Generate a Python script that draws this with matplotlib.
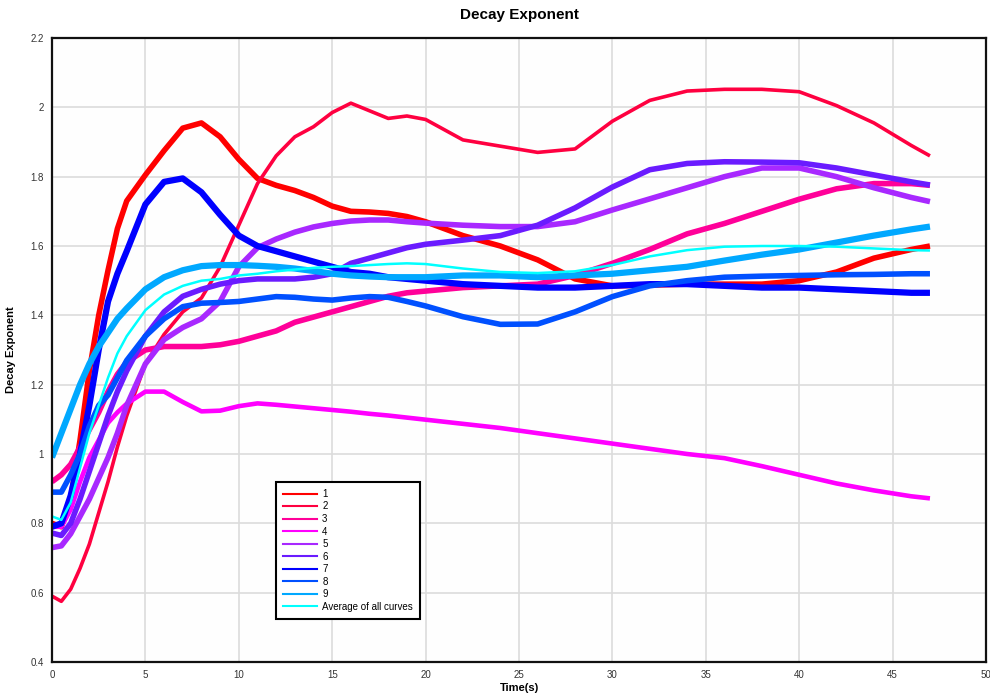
import matplotlib
matplotlib.use("Agg")
import matplotlib.pyplot as plt

plt.rcParams['font.family'] = ['Liberation Sans', 'DejaVu Sans']

# ---- data ----
time_s = [0, 0.5, 1, 1.5, 2, 2.5, 3, 3.5, 4, 5, 6, 7, 8, 9, 10, 11, 12, 13, 14, 15,
          16, 17, 18, 19, 20, 22, 24, 26, 28, 30, 32, 34, 36, 38, 40, 42, 44, 46, 47]

curve_1 = [0.80, 0.79, 0.87, 1.04, 1.24, 1.40, 1.53, 1.65, 1.73, 1.805, 1.875, 1.94, 1.955, 1.915,
           1.85, 1.795, 1.775, 1.76, 1.74, 1.715, 1.70, 1.698, 1.694, 1.685, 1.67, 1.63, 1.60,
           1.56, 1.505, 1.485, 1.487, 1.49, 1.49, 1.49, 1.50, 1.525, 1.565, 1.59, 1.60]
curve_2 = [0.59, 0.575, 0.61, 0.67, 0.74, 0.83, 0.92, 1.02, 1.11, 1.26, 1.345, 1.41, 1.45, 1.54,
           1.66, 1.78, 1.86, 1.915, 1.944, 1.985, 2.012, 1.99, 1.968, 1.975, 1.965, 1.906, 1.888,
           1.87, 1.88, 1.96, 2.02, 2.047, 2.052, 2.052, 2.045, 2.005, 1.955, 1.89, 1.86]
curve_3 = [0.92, 0.94, 0.97, 1.02, 1.07, 1.12, 1.18, 1.23, 1.265, 1.30, 1.31, 1.31, 1.31, 1.315,
           1.325, 1.34, 1.355, 1.38, 1.395, 1.41, 1.425, 1.44, 1.455, 1.465, 1.47, 1.48, 1.485,
           1.49, 1.515, 1.55, 1.59, 1.635, 1.665, 1.70, 1.735, 1.765, 1.78, 1.78, 1.775]
curve_4 = [0.79, 0.79, 0.84, 0.92, 0.99, 1.04, 1.09, 1.12, 1.145, 1.18, 1.18, 1.15, 1.123, 1.125,
           1.138, 1.146, 1.142, 1.137, 1.132, 1.127, 1.122, 1.116, 1.111, 1.105, 1.099, 1.087,
           1.075, 1.06, 1.045, 1.03, 1.015, 1.0, 0.988, 0.965, 0.94, 0.915, 0.895, 0.878, 0.872]
curve_5 = [0.73, 0.735, 0.77, 0.82, 0.87, 0.93, 0.99, 1.06, 1.14, 1.26, 1.33, 1.365, 1.39, 1.44,
           1.54, 1.595, 1.62, 1.64, 1.655, 1.665, 1.672, 1.675, 1.675, 1.67, 1.666, 1.66, 1.656,
           1.656, 1.67, 1.704, 1.736, 1.768, 1.80, 1.825, 1.825, 1.80, 1.768, 1.74, 1.728]
curve_6 = [0.772, 0.765, 0.80, 0.87, 0.95, 1.03, 1.11, 1.18, 1.24, 1.34, 1.41, 1.455, 1.475, 1.49,
           1.50, 1.505, 1.505, 1.505, 1.51, 1.52, 1.55, 1.565, 1.58, 1.595, 1.605, 1.617, 1.63,
           1.66, 1.71, 1.77, 1.82, 1.838, 1.843, 1.842, 1.84, 1.825, 1.805, 1.785, 1.776]
curve_7 = [0.79, 0.80, 0.88, 1.00, 1.14, 1.30, 1.44, 1.52, 1.585, 1.72, 1.785, 1.795, 1.755, 1.69,
           1.63, 1.60, 1.585, 1.57, 1.555, 1.54, 1.525, 1.52, 1.51, 1.505, 1.50, 1.49, 1.485,
           1.48, 1.48, 1.485, 1.49, 1.49, 1.485, 1.48, 1.48, 1.475, 1.47, 1.465, 1.465]
curve_8 = [0.89, 0.89, 0.94, 1.00, 1.08, 1.14, 1.17, 1.22, 1.27, 1.34, 1.39, 1.425, 1.435, 1.437,
           1.44, 1.447, 1.454, 1.452, 1.447, 1.444, 1.45, 1.454, 1.452, 1.44, 1.427, 1.396, 1.374,
           1.375, 1.41, 1.454, 1.485, 1.50, 1.51, 1.513, 1.515, 1.517, 1.518, 1.52, 1.52]
curve_9 = [0.99, 1.06, 1.13, 1.20, 1.26, 1.31, 1.35, 1.39, 1.42, 1.475, 1.51, 1.53, 1.542, 1.545,
           1.545, 1.543, 1.54, 1.535, 1.528, 1.52, 1.515, 1.512, 1.51, 1.51, 1.51, 1.515, 1.515,
           1.51, 1.515, 1.52, 1.53, 1.54, 1.558, 1.575, 1.59, 1.61, 1.63, 1.648, 1.656]
curve_avg = [0.82, 0.81, 0.86, 0.96, 1.06, 1.14, 1.22, 1.29, 1.34, 1.415, 1.46, 1.485, 1.50, 1.505,
             1.515, 1.52, 1.527, 1.532, 1.537, 1.54, 1.542, 1.545, 1.548, 1.55, 1.548, 1.535, 1.525,
             1.522, 1.527, 1.545, 1.57, 1.588, 1.598, 1.60, 1.60, 1.598, 1.593, 1.588, 1.587]

series_labels = ['1', '2', '3', '4', '5', '6', '7', '8', '9', 'Average of all curves']
series_values = [curve_1, curve_2, curve_3, curve_4, curve_5, curve_6, curve_7, curve_8,
                 curve_9, curve_avg]
series_colors = ['#FF0000', '#FF0040', '#FF0099', '#FF00FF', '#A828FF', '#6A1BFF',
                 '#0000FF', '#0050FF', '#00A8FF', '#00FFFF']
series_widths = [4.0, 2.6, 4.0, 3.3, 4.0, 4.0, 4.5, 4.0, 4.5, 1.8]

x_ticks = [0, 5, 10, 15, 20, 25, 30, 35, 40, 45, 50]
y_ticks = [0.4, 0.6, 0.8, 1.0, 1.2, 1.4, 1.6, 1.8, 2.0, 2.2]
y_tick_labels = ['0.4', '0.6', '0.8', '1', '1.2', '1.4', '1.6', '1.8', '2', '2.2']

# ---- figure ----
fig = plt.figure(figsize=(9.9, 6.98), dpi=100)
ax = fig.add_axes([52 / 990, 1 - 662 / 698, (986 - 52) / 990, (662 - 38) / 698])
ax.set_facecolor('#FEFEFE')

handles = []
for lab, vals, col, lw in zip(series_labels, series_values, series_colors, series_widths):
    ax.plot(time_s, vals, color=col, lw=lw, solid_joinstyle='round', solid_capstyle='butt')
    h, = ax.plot([], [], color=col, lw=1.5, label=lab)
    handles.append(h)

ax.set_xlim(0, 50)
ax.set_ylim(0.4, 2.2)
ax.set_xticks(x_ticks)
ax.set_yticks(y_ticks)
ax.set_yticklabels(y_tick_labels)
ax.tick_params(axis='both', length=0, labelsize=7, colors='#333333', pad=6)
ax.grid(True, color='#DCDCDC', lw=1.2)
ax.set_axisbelow(True)
for s in ax.spines.values():
    s.set_color('#111111')
    s.set_linewidth(1.6)

ax.set_title('Decay Exponent', fontsize=11, fontweight='bold', pad=14)
ax.set_xlabel('Time(s)', fontsize=8, fontweight='bold', labelpad=2)
ax.set_ylabel('Decay Exponent', fontsize=8, fontweight='bold', labelpad=10)

leg = ax.legend(handles=handles, loc='lower left',
                bbox_to_anchor=((276 - 52) / 934, (662 - 619) / 624),
                borderaxespad=0, fontsize=7, handlelength=3.5, handletextpad=0.5,
                labelspacing=0.26, frameon=True, fancybox=False, borderpad=0.75)
leg.get_frame().set_edgecolor('black')
leg.get_frame().set_linewidth(1.5)
leg.get_frame().set_facecolor('white')
leg.get_frame().set_alpha(1)

fig.savefig('out.png', dpi=100, facecolor='white')
